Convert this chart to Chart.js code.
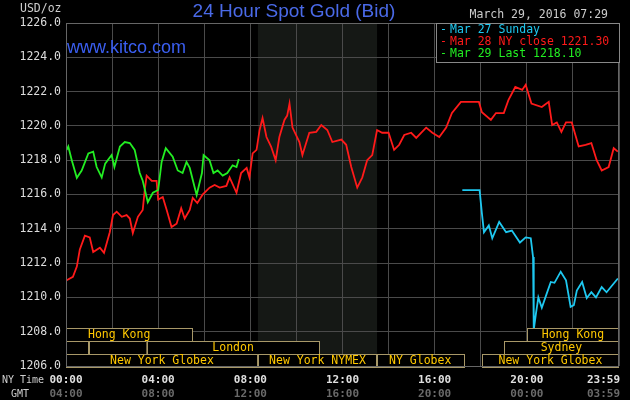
<!DOCTYPE html>
<html><head><meta charset="utf-8">
<script src="https://cdn.jsdelivr.net/npm/chart.js@4.4.0/dist/chart.umd.min.js"></script>
<style>html,body{margin:0;padding:0;background:#000}canvas{display:block}</style>
</head><body><canvas id="c" width="630" height="400"></canvas>
<script>
const redX=[0.03,0.3,0.47,0.6,0.82,1.03,1.18,1.47,1.65,1.9,2.04,2.2,2.42,2.63,2.77,2.9,3.12,3.33,3.42,3.5,3.72,3.93,4.0,4.2,4.37,4.58,4.8,5.0,5.15,5.37,5.5,5.7,5.93,6.23,6.45,6.67,6.96,7.1,7.4,7.6,7.84,7.96,8.1,8.27,8.4,8.53,8.7,8.9,9.1,9.26,9.48,9.6,9.7,9.83,10.13,10.26,10.56,10.86,11.08,11.34,11.56,11.95,12.16,12.38,12.64,12.86,13.07,13.29,13.5,13.72,14.0,14.24,14.46,14.68,14.98,15.2,15.63,15.9,16.2,16.5,16.75,17.14,17.92,18.05,18.44,18.66,19.0,19.2,19.5,19.8,19.95,20.2,20.65,20.95,21.1,21.3,21.5,21.7,21.95,22.25,22.55,22.8,23.03,23.25,23.55,23.77,23.95];
const redY=[1211.0,1211.2,1211.8,1212.8,1213.6,1213.5,1212.65,1212.9,1212.6,1213.8,1214.8,1215.0,1214.7,1214.8,1214.6,1213.75,1214.7,1215.1,1216.3,1217.1,1216.8,1216.8,1215.7,1215.85,1215.1,1214.1,1214.3,1215.2,1214.6,1215.1,1215.8,1215.5,1216.0,1216.4,1216.55,1216.4,1216.5,1217.0,1216.1,1217.25,1217.55,1217.0,1218.4,1218.6,1219.75,1220.46,1219.35,1218.8,1218.0,1219.35,1220.35,1220.6,1221.3,1219.9,1219.06,1218.3,1219.6,1219.65,1220.05,1219.76,1219.06,1219.2,1218.9,1217.6,1216.4,1217.0,1218.0,1218.3,1219.76,1219.6,1219.6,1218.6,1218.9,1219.47,1219.6,1219.3,1219.9,1219.6,1219.35,1219.9,1220.75,1221.4,1221.4,1220.8,1220.35,1220.75,1220.75,1221.5,1222.27,1222.1,1222.4,1221.3,1221.1,1221.4,1220.05,1220.2,1219.65,1220.2,1220.2,1218.8,1218.9,1219.0,1218.0,1217.4,1217.6,1218.7,1218.5];
const greenX=[0.03,0.1,0.25,0.47,0.68,0.97,1.18,1.33,1.55,1.7,1.98,2.1,2.34,2.55,2.77,2.98,3.2,3.33,3.55,3.77,4.0,4.15,4.33,4.63,4.85,5.06,5.23,5.37,5.58,5.67,5.9,5.97,6.23,6.4,6.58,6.8,7.0,7.23,7.4,7.5];
const greenY=[1218.6,1218.8,1218.0,1216.97,1217.4,1218.4,1218.5,1217.6,1217.0,1217.8,1218.3,1217.6,1218.8,1219.06,1219.0,1218.6,1217.25,1216.8,1215.55,1216.1,1216.26,1217.9,1218.7,1218.2,1217.4,1217.25,1217.9,1217.55,1216.44,1215.97,1217.25,1218.3,1218.0,1217.25,1217.4,1217.1,1217.25,1217.7,1217.6,1218.07];
const blueX=[17.2,17.95,18.05,18.14,18.35,18.5,18.8,19.1,19.35,19.7,19.95,20.17,20.27,20.3,20.4,20.5,20.65,20.87,21.04,21.2,21.47,21.7,21.9,22.04,22.17,22.4,22.6,22.8,23.0,23.25,23.46,23.95];
const blueY=[1216.26,1216.26,1214.9,1213.8,1214.2,1213.45,1214.4,1213.8,1213.9,1213.2,1213.5,1213.45,1212.35,1208.1,1209.1,1210.0,1209.4,1210.25,1210.9,1210.85,1211.5,1211.0,1209.45,1209.55,1210.4,1210.9,1209.96,1210.3,1210.0,1210.6,1210.3,1211.1];
const yTicks=[1206,1208,1210,1212,1214,1216,1218,1220,1222,1224,1226];
const xTickHours=[0,4,8,12,16,20,23.98];
const nyLabels=["00:00","04:00","08:00","12:00","16:00","20:00","23:59"];
const gmtLabels=["04:00","08:00","12:00","16:00","20:00","00:00","03:59"];
const legendTexts=["Mar 27 Sunday","Mar 28 NY close 1221.30","Mar 29 Last 1218.10"];
const sessions=[
 [0,0,5.5,"Hong Kong","l"],[0,20.0,24,"Hong Kong","c"],
 [1,0,1,"",""],[1,1,3.5,"",""],[1,3.5,11,"London","c"],[1,19.0,24,"Sydney","c"],
 [2,0,8.33,"New York Globex","c"],[2,8.33,13.5,"New York NYMEX","c"],[2,13.5,17.3,"NY Globex","l"],[2,18.05,24,"New York Globex","c"]];
const mono="'DejaVu Sans Mono', monospace";
const pts=(xs,ys)=>xs.map((x,i)=>({x,y:ys[i]}));
const deco={id:'deco',
 beforeDraw(c){const g=c.ctx,a=c.chartArea,x=c.scales.x;
  g.save();g.fillStyle='#000';g.fillRect(0,0,c.width,c.height);
  g.fillStyle='#151815';const b1=x.getPixelForValue(8.33),b2=x.getPixelForValue(13.5);
  g.fillRect(b1,a.top,b2-b1,a.bottom-a.top);g.restore();},
 afterDatasetsDraw(c){const g=c.ctx,a=c.chartArea,x=c.scales.x,y=c.scales.y;
  g.save();
  g.font='11.5px '+mono;g.textBaseline='middle';
  const rowTop=[328,341,354],rh=13;
  sessions.forEach(s=>{const x1=x.getPixelForValue(s[1]),x2=Math.min(x.getPixelForValue(s[2]),a.right);const t=rowTop[s[0]];
   g.fillStyle='#000';g.fillRect(x1,t,x2-x1,rh);
   g.strokeStyle='#a89868';g.lineWidth=1;g.strokeRect(Math.round(x1)+0.5,t+0.5,Math.round(x2-x1)-1,rh);
   if(s[3]){g.fillStyle='#ffc800';if(s[4]==='c'){g.textAlign='center';g.fillText(s[3],(x1+x2)/2,t+7);}else{g.textAlign='left';g.fillText(s[3],x1+(s[0]===0?22:12),t+7);}}});
  g.strokeStyle='#666';g.lineWidth=1;g.strokeRect(a.left+0.5,a.top+0.5,a.right-a.left-1,a.bottom-a.top);
  g.fillStyle='#000';g.fillRect(436,23,183,40);g.strokeStyle='#888';g.strokeRect(436.5,23.5,183,39);
  const lc=['#1ec8f0','#ff1a1a','#22ee22'];g.textAlign='left';
  legendTexts.forEach((t,i)=>{g.fillStyle=lc[i];g.fillText('-',440,30+i*12);g.fillText(t,450,30+i*12);});
  g.fillStyle='#ddd';g.textAlign='right';
  yTicks.forEach(v=>g.fillText(v.toFixed(1),61,y.getPixelForValue(v)));
  g.font='bold 11px '+mono;
  xTickHours.forEach((h,i)=>{let px=x.getPixelForValue(h);g.textAlign='center';
   if(i===6){g.textAlign='right';px=a.right+1;}
   g.fillStyle='#e0e0e0';g.fillText(nyLabels[i],px,380);g.fillStyle='#6a6a6a';g.fillText(gmtLabels[i],px,394);});
  g.font='10px '+mono;g.textAlign='left';g.fillStyle='#ccc';g.fillText('NY Time',2,380);g.fillText('GMT',11,394);
  g.font='11.5px '+mono;g.fillText('USD/oz',20,9);
  g.textAlign='right';g.fillText('March 29, 2016 07:29',608,15);
  g.textAlign='center';g.fillStyle='#4a6ae8';g.font='19px "Liberation Sans", Arial, sans-serif';g.fillText('24 Hour Spot Gold (Bid)',294,12);
  g.textAlign='left';g.fillStyle='#3a5ef0';g.font='18px "Liberation Sans", Arial, sans-serif';g.fillText('www.kitco.com',67,48);
  g.restore();}};
new Chart(document.getElementById('c'),{type:'scatter',
 data:{datasets:[
  {data:pts(greenX,greenY),borderColor:'#22ee22',showLine:true,pointRadius:0,borderWidth:1.8,tension:0},
  {data:pts(redX,redY),borderColor:'#ff1a1a',showLine:true,pointRadius:0,borderWidth:1.8,tension:0},
  {data:pts(blueX,blueY),borderColor:'#1ec8f0',showLine:true,pointRadius:0,borderWidth:1.8,tension:0}]},
 options:{responsive:false,animation:false,events:[],
  layout:{padding:{left:66,right:11,top:23,bottom:34}},
  plugins:{legend:{display:false},tooltip:{enabled:false}},
  scales:{x:{type:'linear',min:0,max:24,ticks:{display:false,stepSize:2},grid:{color:'#4a4a4a',drawTicks:false},border:{display:false}},
   y:{min:1206,max:1226,ticks:{display:false,stepSize:2},grid:{color:'#4a4a4a',drawTicks:false},border:{display:false}}}},
 plugins:[deco]});
</script></body></html>
